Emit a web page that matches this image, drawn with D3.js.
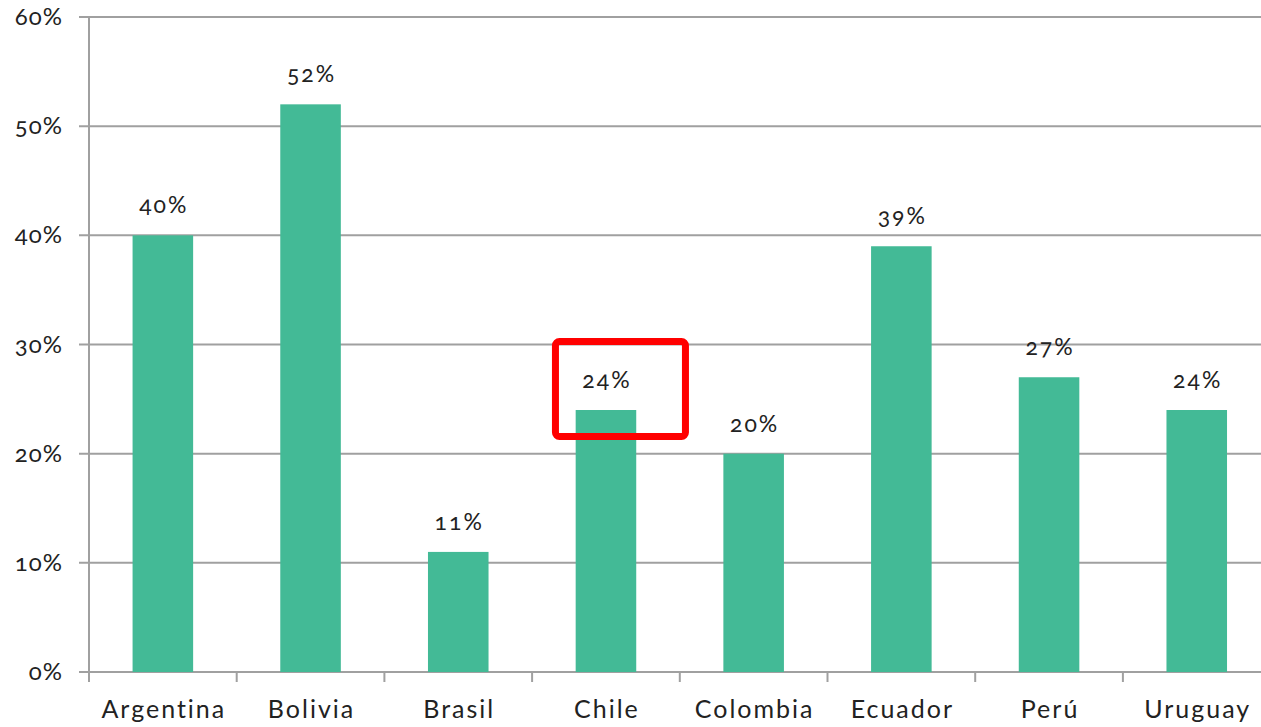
<!DOCTYPE html>
<html>
<head>
<meta charset="utf-8">
<script src="https://cdn.jsdelivr.net/npm/d3@7"></script>
<style>
  body { margin: 0; background: #fff; }
  svg text { font-family: Lato, "Open Sans", sans-serif; fill: #222; font-variant-numeric: oldstyle-nums; }
</style>
</head>
<body>
<div id="mainDiv"></div>
<script>
'use strict';

var countries = ['Argentina', 'Bolivia', 'Brasil', 'Chile', 'Colombia', 'Ecuador', 'Perú', 'Uruguay'];
var values = [40, 52, 11, 24, 20, 39, 27, 24];
var yTicks = [0, 10, 20, 30, 40, 50, 60];
var highlight = 'Chile';

var W = 1261, H = 727;
var plotLeft = 89, plotTop = 17, plotBottom = 672;
var band = 147.7;

var svg = d3.select('#mainDiv').append('svg')
    .attr('width', W)
    .attr('height', H);

var x = d3.scaleBand()
    .domain(countries)
    .range([plotLeft, plotLeft + band * countries.length])
    .paddingInner(0.59)
    .paddingOuter(0.295);

var y = d3.scaleLinear()
    .domain([0, 60])
    .range([plotBottom, plotTop]);

// gridlines
svg.append('g')
    .selectAll('line')
    .data(yTicks)
    .enter()
    .append('line')
    .attr('x1', plotLeft - 10)
    .attr('x2', W)
    .attr('y1', function(d){ return y(d); })
    .attr('y2', function(d){ return y(d); })
    .style('stroke', '#a0a0a0')
    .style('stroke-width', 2);

// y axis line
svg.append('line')
    .attr('x1', plotLeft).attr('x2', plotLeft)
    .attr('y1', y(60)).attr('y2', plotBottom + 10)
    .style('stroke', '#a0a0a0')
    .style('stroke-width', 2);

// y labels
svg.append('g')
    .selectAll('text')
    .data(yTicks)
    .enter()
    .append('text')
    .attr('x', 63)
    .attr('y', function(d){ return y(d) + 8; })
    .attr('text-anchor', 'end')
    .style('font-size', '24px')
    .style('letter-spacing', '1px')
    .text(function(d){ return d + '%'; });

// x ticks at category boundaries
var bounds = d3.range(countries.length + 1).map(function(i){ return plotLeft + i * band; });
svg.append('g')
    .selectAll('line')
    .data(bounds)
    .enter()
    .append('line')
    .attr('x1', function(d){ return d; })
    .attr('x2', function(d){ return d; })
    .attr('y1', plotBottom)
    .attr('y2', plotBottom + 10)
    .style('stroke', '#a0a0a0')
    .style('stroke-width', 2);

// bars
svg.append('g')
    .selectAll('rect')
    .data(values)
    .enter()
    .append('rect')
    .attr('x', function(d, i){ return x(countries[i]); })
    .attr('y', function(d){ return y(d); })
    .attr('width', x.bandwidth())
    .attr('height', function(d){ return plotBottom - y(d); })
    .style('fill', '#43ba96');

// value labels
svg.append('g')
    .selectAll('text')
    .data(values)
    .enter()
    .append('text')
    .attr('x', function(d, i){ return x(countries[i]) + x.bandwidth() / 2 + 1; })
    .attr('y', function(d){ return y(d) - 22; })
    .attr('text-anchor', 'middle')
    .style('font-size', '23px')
    .style('letter-spacing', '2px')
    .text(function(d){ return d + '%'; });

// category labels
svg.append('g')
    .selectAll('text')
    .data(countries)
    .enter()
    .append('text')
    .attr('x', function(d){ return x(d) + x.bandwidth() / 2 + 1; })
    .attr('y', 718)
    .attr('text-anchor', 'middle')
    .style('font-size', '25px')
    .style('letter-spacing', '2px')
    .text(function(d){ return d; });

// red highlight box
var hi = countries.indexOf(highlight);
var cx = x(highlight) + x.bandwidth() / 2;
svg.append('rect')
    .attr('x', cx - 50.5)
    .attr('y', y(values[hi]) - 68.5)
    .attr('width', 130)
    .attr('height', 95)
    .attr('rx', 4)
    .style('fill', 'none')
    .style('stroke', '#ff0000')
    .style('stroke-width', 7);
</script>
</body>
</html>
